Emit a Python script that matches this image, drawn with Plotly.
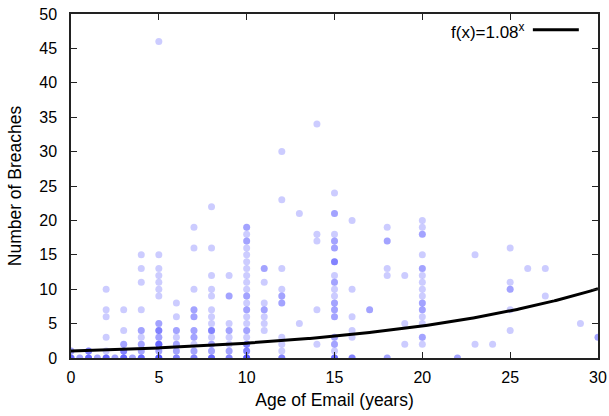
import numpy as np
import plotly.graph_objects as go

# age of email (years), number of breaches, number of accounts at that point
ages = [0, 0, 0.5, 1, 1, 1.5, 2, 2, 2, 2, 2, 2, 2.5, 3, 3, 3, 3, 3, 3.5,
        4, 4, 4, 4, 4, 4, 4, 4, 4,
        5, 5, 5, 5, 5, 5, 5, 5, 5, 5, 5, 5, 5,
        6, 6, 6, 6, 6, 6, 6,
        7, 7, 7, 7, 7, 7, 7, 7, 7, 7,
        8, 8, 8, 8, 8, 8, 8, 8, 8, 8, 8, 8, 8,
        9, 9, 9, 9, 9, 9, 9, 9,
        10, 10, 10, 10, 10, 10, 10, 10, 10, 10, 10, 10, 10, 10, 10, 10, 10, 10, 10, 10,
        11, 11, 11, 11, 11, 11, 11,
        12, 12, 12, 12, 12, 12, 12, 12, 12, 12,
        13, 13,
        14, 14, 14, 14, 14,
        15, 15, 15, 15, 15, 15, 15, 15, 15, 15, 15, 15, 15, 15, 15, 15, 15,
        16, 16, 16, 16, 16, 16,
        17,
        18, 18, 18, 18, 18,
        19, 19, 19,
        20, 20, 20, 20, 20, 20, 20, 20, 20, 20, 20, 20, 20, 20, 20,
        22, 23, 23, 24,
        25, 25, 25, 25, 25,
        26, 27, 27, 29, 30]
breaches = [0, 1, 0, 1, 0, 0, 10, 7, 6, 3, 1, 0, 0, 7, 4, 2, 1, 0, 0,
            15, 13, 11, 7, 4, 3, 2, 1, 0,
            46, 15, 13, 12, 11, 10, 9, 5, 4, 3, 2, 1, 0,
            8, 6, 4, 3, 2, 1, 0,
            19, 16, 10, 7, 6, 4, 3, 2, 1, 0,
            22, 16, 12, 10, 9, 7, 6, 5, 4, 3, 2, 1, 0,
            12, 9, 5, 4, 3, 2, 1, 0,
            19, 18, 17, 16, 15, 14, 13, 12, 11, 10, 9, 8, 7, 6, 5, 4, 3, 2, 1, 0,
            13, 11, 8, 7, 6, 5, 4,
            30, 23, 13, 10, 9, 8, 3, 2, 1, 0,
            21, 5,
            34, 18, 17, 7, 2,
            24, 21, 18, 17, 16, 14, 12, 11, 10, 9, 8, 7, 6, 3, 2, 1, 0,
            20, 10, 6, 4, 3, 0,
            7,
            19, 17, 13, 12, 0,
            12, 5, 2,
            20, 19, 18, 15, 13, 12, 11, 10, 9, 8, 7, 6, 5, 3, 2,
            0, 15, 2, 2,
            16, 11, 10, 7, 4,
            13, 13, 9, 5, 3]
counts = [4, 2, 2, 3, 4, 2, 1, 1, 1, 1, 1, 4, 2, 1, 1, 2, 3, 4, 2,
          1, 1, 1, 1, 2, 1, 2, 2, 4,
          1, 1, 1, 1, 1, 1, 1, 2, 3, 2, 4, 2, 5,
          1, 1, 2, 1, 2, 2, 3,
          1, 1, 1, 2, 2, 2, 2, 1, 2, 3,
          1, 1, 1, 1, 1, 1, 1, 1, 3, 1, 2, 2, 4,
          1, 2, 1, 2, 1, 1, 2, 3,
          2, 1, 2, 1, 1, 1, 1, 1, 1, 1, 2, 1, 2, 1, 1, 2, 1, 3, 3, 5,
          2, 1, 1, 2, 1, 1, 1,
          1, 1, 1, 1, 2, 2, 1, 1, 1, 3,
          1, 1,
          1, 1, 1, 1, 1,
          1, 2, 1, 2, 2, 3, 1, 2, 1, 1, 2, 2, 2, 2, 2, 1, 4,
          1, 1, 1, 1, 1, 3,
          2,
          1, 2, 1, 1, 2,
          1, 1, 1,
          1, 1, 2, 1, 2, 1, 1, 1, 1, 2, 2, 1, 1, 2, 1,
          2, 1, 1, 1,
          1, 1, 2, 1, 1,
          1, 1, 1, 1, 2]

base = 1.08
x_ticks = [0, 5, 10, 15, 20, 25, 30]
y_ticks = [0, 5, 10, 15, 20, 25, 30, 35, 40, 45, 50]

xs = np.repeat(np.array(ages, dtype=float), counts)
ys = np.repeat(np.array(breaches, dtype=float), counts)

fx = np.linspace(0, 30, 301)
fy = base ** fx

fig = go.Figure()
fig.add_trace(go.Scatter(
    x=xs, y=ys, mode="markers",
    marker=dict(size=7, color="rgba(0,0,255,0.2)", line=dict(width=0)),
    showlegend=False, hoverinfo="skip"))
fig.add_trace(go.Scatter(
    x=fx, y=fy, mode="lines", line=dict(color="black", width=3),
    showlegend=False, hoverinfo="skip"))

fam = "Liberation Sans, Arial, Helvetica, sans-serif"
tick_font = dict(family=fam, size=16, color="black")
title_font = dict(family=fam, size=17.5, color="black")

axis_common = dict(
    showline=True, linecolor="#222", linewidth=1.5, mirror="allticks",
    ticks="inside", ticklen=6, tickwidth=1.2, tickcolor="#222",
    showgrid=False, zeroline=False, tickfont=tick_font, automargin=False,
    ticklabeloverflow="allow")

fig.update_xaxes(range=[0, 30], tickvals=x_ticks, ticklabelstandoff=4,
                 title=dict(text="Age of Email (years)", font=title_font, standoff=9),
                 **axis_common)
fig.update_yaxes(range=[0, 50], tickvals=y_ticks, ticklabelstandoff=9,
                 title=dict(text="Number of Breaches", font=title_font, standoff=13),
                 **axis_common)

# key in the top-right corner (paper coords = plot-area fractions)
fig.add_annotation(xref="paper", yref="paper", x=0.8645, y=0.9887,
                   text="f(x)=1.08<sup>x</sup>", showarrow=False,
                   xanchor="right", yanchor="top",
                   font=dict(family=fam, size=17, color="black"))
fig.add_shape(type="line", xref="paper", yref="paper",
              x0=0.8764, x1=0.9636, y0=0.9544, y1=0.9544,
              line=dict(color="black", width=3))

fig.update_layout(
    width=609, height=416,
    margin=dict(l=71, r=10.5, t=14, b=57.5),
    plot_bgcolor="white", paper_bgcolor="white",
    font=tick_font, hovermode=False)

# remove the page's default body margin so the figure fills the window
fig.write_html("out.html", config={"displayModeBar": False},
               post_script="document.body.style.margin='0px';")
